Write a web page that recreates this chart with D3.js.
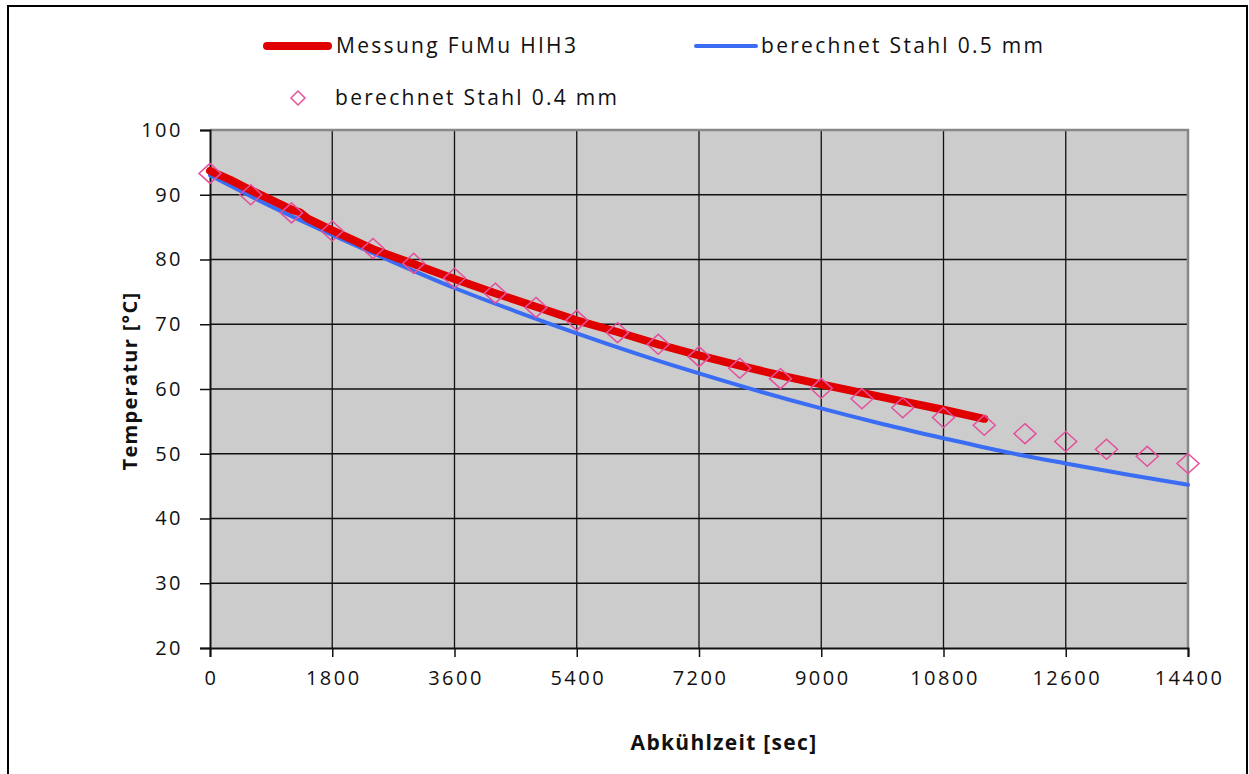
<!DOCTYPE html>
<meta charset="utf-8">
<script src="https://d3js.org/d3.v7.min.js"></script>
<style>
  body { margin: 0; background: #fff; }
  text { font-family: "Open Sans", sans-serif; fill: #111; }
</style>
<div id="my_dataviz"></div>
<script>

  // measured data (sec, °C)
  var messTime = [0, 300, 600, 900, 1200, 1320, 1440, 1800, 2400, 3000, 3600, 4200, 4800, 5400, 6000, 6600, 7200, 7800, 8400, 9000, 9600, 10200, 10800, 11400]
  var messTemp = [93.7, 92.3, 90.7, 89.2, 87.7, 87.3, 86.3, 84.5, 81.6, 79.3, 77.0, 74.8, 72.7, 70.6, 68.8, 66.9, 65.2, 63.6, 62.1, 60.7, 59.4, 58.1, 56.8, 55.4]

  // calculated steel 0.5 mm
  var s05Time = [0, 900, 1800, 2700, 3600, 4500, 5400, 6300, 7200, 8100, 9000, 9900, 10800, 11700, 12600, 13500, 14400]
  var s05Temp = [93.0, 88.2, 83.8, 79.6, 75.6, 72.0, 68.6, 65.4, 62.4, 59.6, 57.0, 54.6, 52.4, 50.3, 48.5, 46.8, 45.2]

  // calculated steel 0.4 mm (diamonds)
  var s04Time = [0, 600, 1200, 1800, 2400, 3000, 3600, 4200, 4800, 5400, 6000, 6600, 7200, 7800, 8400, 9000, 9600, 10200, 10800, 11400, 12000, 12600, 13200, 13800, 14400]
  var s04Temp = [93.3, 90.0, 87.2, 84.4, 81.7, 79.4, 77.1, 74.8, 72.6, 70.6, 68.7, 66.9, 65.0, 63.2, 61.6, 60.1, 58.5, 57.1, 55.6, 54.4, 53.1, 51.9, 50.7, 49.6, 48.5]

  var xTicks = [0, 1800, 3600, 5400, 7200, 9000, 10800, 12600, 14400]
  var yTicks = [20, 30, 40, 50, 60, 70, 80, 90, 100]

  var margin = {top: 130, right: 61, bottom: 126, left: 210},
    width = 1249 - margin.left - margin.right,
    height = 774 - margin.top - margin.bottom;

  var svgRoot = d3.select("#my_dataviz")
    .append("svg")
      .attr("width", 1249)
      .attr("height", 774);

  // outer frame
  svgRoot.append("rect")
    .attr("x", 8).attr("y", 6)
    .attr("width", 1239).attr("height", 800)
    .attr("fill", "none")
    .attr("stroke", "#000")
    .attr("stroke-width", 2);

  var svg = svgRoot.append("g")
    .attr("transform", "translate(" + margin.left + "," + margin.top + ")");

  var x = d3.scaleLinear().domain([0, 14400]).range([0, width]);
  var y = d3.scaleLinear().domain([20, 100]).range([height, 0]);

  // plot background
  svg.append("rect")
    .attr("width", width).attr("height", height)
    .attr("fill", "#cccccc");

  // grid
  svg.append("g")
    .selectAll("line")
    .data(xTicks.slice(1, -1))
    .enter().append("line")
      .attr("x1", function(d){ return x(d) }).attr("x2", function(d){ return x(d) })
      .attr("y1", 0).attr("y2", height)
      .attr("stroke", "#111").attr("stroke-width", 1.3);
  svg.append("g")
    .selectAll("line")
    .data(yTicks.slice(1, -1))
    .enter().append("line")
      .attr("y1", function(d){ return y(d) }).attr("y2", function(d){ return y(d) })
      .attr("x1", 0).attr("x2", width)
      .attr("stroke", "#111").attr("stroke-width", 1.3);

  // top and right border
  svg.append("path")
    .attr("d", "M0,0H" + width + "V" + height)
    .attr("fill", "none")
    .attr("stroke", "#888").attr("stroke-width", 2.5);

  // axes
  var xAxis = svg.append("g")
    .attr("transform", "translate(0," + height + ")")
    .call(d3.axisBottom(x).tickValues(xTicks).tickSize(9).tickPadding(13).tickFormat(d3.format("d")));
  var yAxis = svg.append("g")
    .call(d3.axisLeft(y).tickValues(yTicks).tickSize(10).tickPadding(17).tickFormat(d3.format("d")));
  [xAxis, yAxis].forEach(function(a){
    a.select(".domain").attr("stroke", "#111").attr("stroke-width", 2);
    a.selectAll(".tick line").attr("stroke", "#111").attr("stroke-width", 1.5);
    a.selectAll(".tick text")
      .style("font-family", "'Open Sans', sans-serif")
      .style("font-size", "20px")
      .style("letter-spacing", "2.5px")
      .attr("fill", "#111");
  });
  xAxis.selectAll(".tick text").attr("dy", "0.75em").attr("dx", "1px");

  // axis titles
  svg.append("text")
    .attr("x", 514).attr("y", height + 102)
    .attr("text-anchor", "middle")
    .style("font-size", "21px").style("font-weight", "bold").style("letter-spacing", "1.3px")
    .text("Abkühlzeit [sec]");
  svg.append("text")
    .attr("transform", "translate(-73," + (height / 2 - 8) + ") rotate(-90)")
    .attr("text-anchor", "middle")
    .style("font-size", "20px").style("font-weight", "bold").style("letter-spacing", "1.3px")
    .text("Temperatur [°C]");

  // blue line
  var s05 = s05Time.map(function(t, i){ return [t, s05Temp[i]] });
  svg.append("path")
    .datum(s05)
    .attr("fill", "none")
    .attr("stroke", "#3a6cf4")
    .attr("stroke-width", 4)
    .attr("stroke-linecap", "round")
    .attr("d", d3.line().curve(d3.curveMonotoneX).x(function(d){ return x(d[0]) }).y(function(d){ return y(d[1]) }));

  // red measured line
  var mess = messTime.map(function(t, i){ return [t, messTemp[i]] });
  svg.append("path")
    .datum(mess)
    .attr("fill", "none")
    .attr("stroke", "#e00000")
    .attr("stroke-width", 8)
    .attr("stroke-linecap", "round")
    .attr("stroke-linejoin", "round")
    .attr("d", d3.line().x(function(d){ return x(d[0]) }).y(function(d){ return y(d[1]) }));

  // diamonds
  var s04 = s04Time.map(function(t, i){ return [t, s04Temp[i]] });
  var dia = function(cx, cy){ return "M" + cx + "," + (cy - 10) + "L" + (cx + 11) + "," + cy + "L" + cx + "," + (cy + 10) + "L" + (cx - 11) + "," + cy + "Z" };
  svg.selectAll(".dia")
    .data(s04)
    .enter().append("path")
      .attr("class", "dia")
      .attr("d", function(d){ return dia(x(d[0]), y(d[1])) })
      .attr("fill", "none")
      .attr("stroke", "#e5509c")
      .attr("stroke-width", 1.5);

  // legend
  var leg = svgRoot.append("g").style("font-size", "21px").style("letter-spacing", "2.3px");
  leg.append("line").attr("x1", 267).attr("x2", 328).attr("y1", 46).attr("y2", 46)
    .attr("stroke", "#e00000").attr("stroke-width", 8).attr("stroke-linecap", "round");
  leg.append("text").attr("x", 336).attr("y", 46).attr("dy", "0.35em")
    .text("Messung FuMu HIH3");
  leg.append("line").attr("x1", 696).attr("x2", 756).attr("y1", 46).attr("y2", 46)
    .attr("stroke", "#3a6cf4").attr("stroke-width", 4).attr("stroke-linecap", "round");
  leg.append("text").attr("x", 761).attr("y", 46).attr("dy", "0.35em")
    .text("berechnet Stahl 0.5 mm");
  leg.append("path").attr("d", "M298,91L305,98L298,105L291,98Z")
    .attr("fill", "none").attr("stroke", "#e5509c").attr("stroke-width", 1.5);
  leg.append("text").attr("x", 335).attr("y", 98).attr("dy", "0.35em")
    .text("berechnet Stahl 0.4 mm");

</script>
